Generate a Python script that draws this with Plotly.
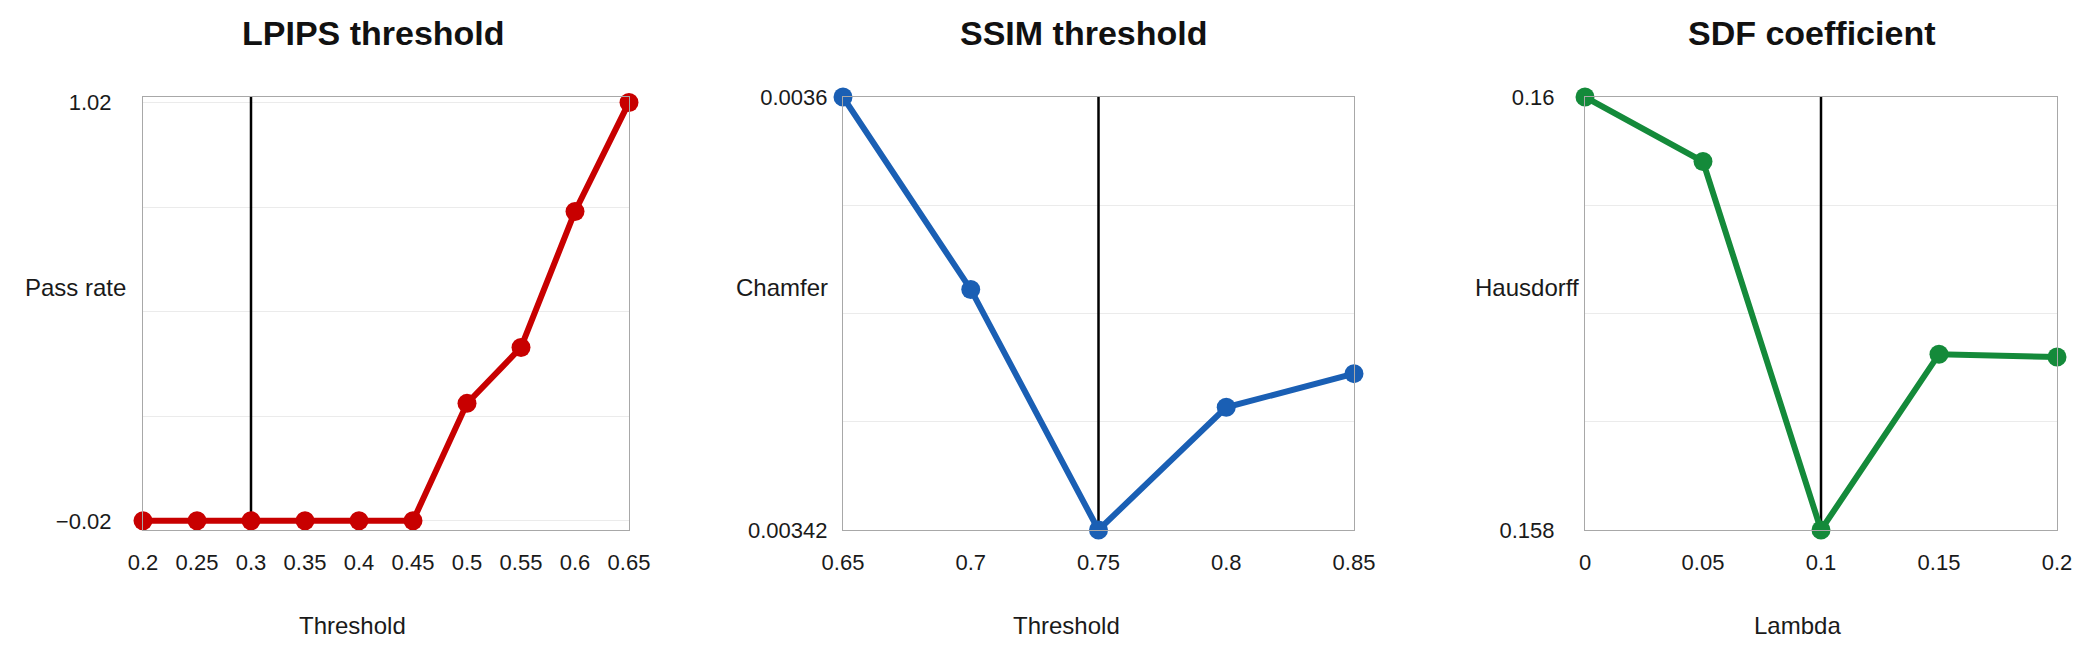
import plotly.graph_objects as go

W, H = 2088, 654

# ---------------- data ----------------
lpips_x = [0.2, 0.25, 0.3, 0.35, 0.4, 0.45, 0.5, 0.55, 0.6, 0.65]
lpips_pass_rate = [-0.02, -0.02, -0.02, -0.02, -0.02, -0.02, 0.272, 0.411, 0.749, 1.02]
lpips_xticks = ["0.2", "0.25", "0.3", "0.35", "0.4", "0.45", "0.5", "0.55", "0.6", "0.65"]
lpips_chosen = 0.3

ssim_x = [0.65, 0.7, 0.75, 0.8, 0.85]
ssim_chamfer = [0.0036, 0.00352, 0.00342, 0.003471, 0.003485]
ssim_xticks = ["0.65", "0.7", "0.75", "0.8", "0.85"]
ssim_chosen = 0.75

sdf_x = [0.0, 0.05, 0.1, 0.15, 0.2]
sdf_hausdorff = [0.16, 0.159702, 0.158, 0.158812, 0.158799]
sdf_xticks = ["0", "0.05", "0.1", "0.15", "0.2"]
sdf_chosen = 0.1

titles = ["LPIPS threshold", "SSIM threshold", "SDF coefficient"]
xlabels = ["Threshold", "Threshold", "Lambda"]
ylabels = ["Pass rate", "Chamfer", "Hausdorff"]

colors = ["#C80000", "#1A5FB4", "#148A3A"]

# ---------------- layout helpers ----------------
def px_x(p):
    return p / W

def px_y(p):
    return (H - p) / H

frames = [(143, 629), (843, 1354), (1585, 2057)]
frame_top, frame_bottom = 97, 530

series = [
    (lpips_x, lpips_pass_rate),
    (ssim_x, ssim_chamfer),
    (sdf_x, sdf_hausdorff),
]
chosen = [lpips_chosen, ssim_chosen, sdf_chosen]

tick_font = dict(family="Liberation Sans, Arial, sans-serif", size=22, color="#1a1a1a")
frame_col = "#a8a8a8"
grid_col = "#ebebeb"

lp_lo, lp_hi = min(lpips_pass_rate), max(lpips_pass_rate)
lp_step = (lp_hi - lp_lo) / 4
ss_lo, ss_hi = min(ssim_chamfer), max(ssim_chamfer)
ss_step = (ss_hi - ss_lo) / 4
sd_lo, sd_hi = min(sdf_hausdorff), max(sdf_hausdorff)
sd_step = (sd_hi - sd_lo) / 4

y_defs = [
    dict(range=[-0.0428, 1.0335],
         tickvals=[lp_lo + k * lp_step for k in range(5)],
         ticktext=["\u22120.02", "", "", "", "1.02"], standoff=26),
    dict(range=[ss_lo, ss_hi],
         tickvals=[ss_lo + k * ss_step for k in range(5)],
         ticktext=["0.00342", "", "", "", "0.0036"], standoff=10),
    dict(range=[sd_lo, sd_hi],
         tickvals=[sd_lo + k * sd_step for k in range(5)],
         ticktext=["0.158", "", "", "", "0.16"], standoff=25),
]
x_defs = [
    dict(range=[min(lpips_x), max(lpips_x)], tickvals=lpips_x, ticktext=lpips_xticks),
    dict(range=[min(ssim_x), max(ssim_x)], tickvals=ssim_x, ticktext=ssim_xticks),
    dict(range=[min(sdf_x), max(sdf_x)], tickvals=sdf_x, ticktext=sdf_xticks),
]

fig = go.Figure()

# vertical marker line for the chosen value (drawn first, beneath the data)
for i, c in enumerate(chosen):
    sfx = "" if i == 0 else str(i + 1)
    r = y_defs[i]["range"]
    fig.add_trace(go.Scatter(
        x=[c, c], y=[r[0], r[1]], mode="lines",
        line=dict(color="black", width=2.5),
        hoverinfo="skip", showlegend=False,
        xaxis="x" + sfx, yaxis="y" + sfx,
    ))

for i, (xs, ys) in enumerate(series):
    sfx = "" if i == 0 else str(i + 1)
    fig.add_trace(go.Scatter(
        x=xs, y=ys, mode="lines+markers",
        line=dict(color=colors[i], width=6),
        marker=dict(color=colors[i], size=19),
        cliponaxis=False, showlegend=False,
        xaxis="x" + sfx, yaxis="y" + sfx,
    ))

layout = dict(
    width=W, height=H, autosize=False,
    margin=dict(l=0, r=0, t=0, b=0, pad=0),
    paper_bgcolor="white", plot_bgcolor="white",
    showlegend=False,
)

for i in range(3):
    sfx = "" if i == 0 else str(i + 1)
    x0, x1 = frames[i]
    xd = x_defs[i]
    yd = y_defs[i]
    layout["xaxis" + sfx] = dict(
        domain=[px_x(x0), px_x(x1)], anchor="y" + sfx, automargin=False,
        range=xd["range"], tickmode="array", tickvals=xd["tickvals"], ticktext=xd["ticktext"],
        showgrid=False, zeroline=False, ticks="",
        showline=True, mirror=True, linecolor=frame_col, linewidth=1.2,
        tickfont=tick_font, ticklabelstandoff=12,
    )
    layout["yaxis" + sfx] = dict(
        domain=[px_y(frame_bottom), px_y(frame_top)], anchor="x" + sfx, automargin=False,
        range=yd["range"], tickmode="array", tickvals=yd["tickvals"], ticktext=yd["ticktext"],
        showgrid=True, gridcolor=grid_col, gridwidth=1, zeroline=False, ticks="",
        showline=True, mirror=True, linecolor=frame_col, linewidth=1.2,
        tickfont=tick_font, ticklabelstandoff=yd["standoff"],
    )

fig.update_layout(**layout)

# titles and axis labels
title_cx = [373, 1083, 1811]
xlabel_cx = [352, 1066, 1797]
ylabel_right = [128, 830, 1581]
for i in range(3):
    fig.add_annotation(text="<b>%s</b>" % titles[i], xref="paper", yref="paper",
                       x=px_x(title_cx[i]), y=px_y(33), xanchor="center", yanchor="middle",
                       showarrow=False,
                       font=dict(family="Liberation Sans, Arial, sans-serif", size=34, color="#111111"))
    fig.add_annotation(text=xlabels[i], xref="paper", yref="paper",
                       x=px_x(xlabel_cx[i]), y=px_y(625), xanchor="center", yanchor="middle",
                       showarrow=False,
                       font=dict(family="Liberation Sans, Arial, sans-serif", size=24, color="#1a1a1a"))
    fig.add_annotation(text=ylabels[i], xref="paper", yref="paper",
                       x=px_x(ylabel_right[i]), y=px_y(287), xanchor="right", yanchor="middle",
                       showarrow=False,
                       font=dict(family="Liberation Sans, Arial, sans-serif", size=24, color="#1a1a1a"))

fig.write_html("out.html")
